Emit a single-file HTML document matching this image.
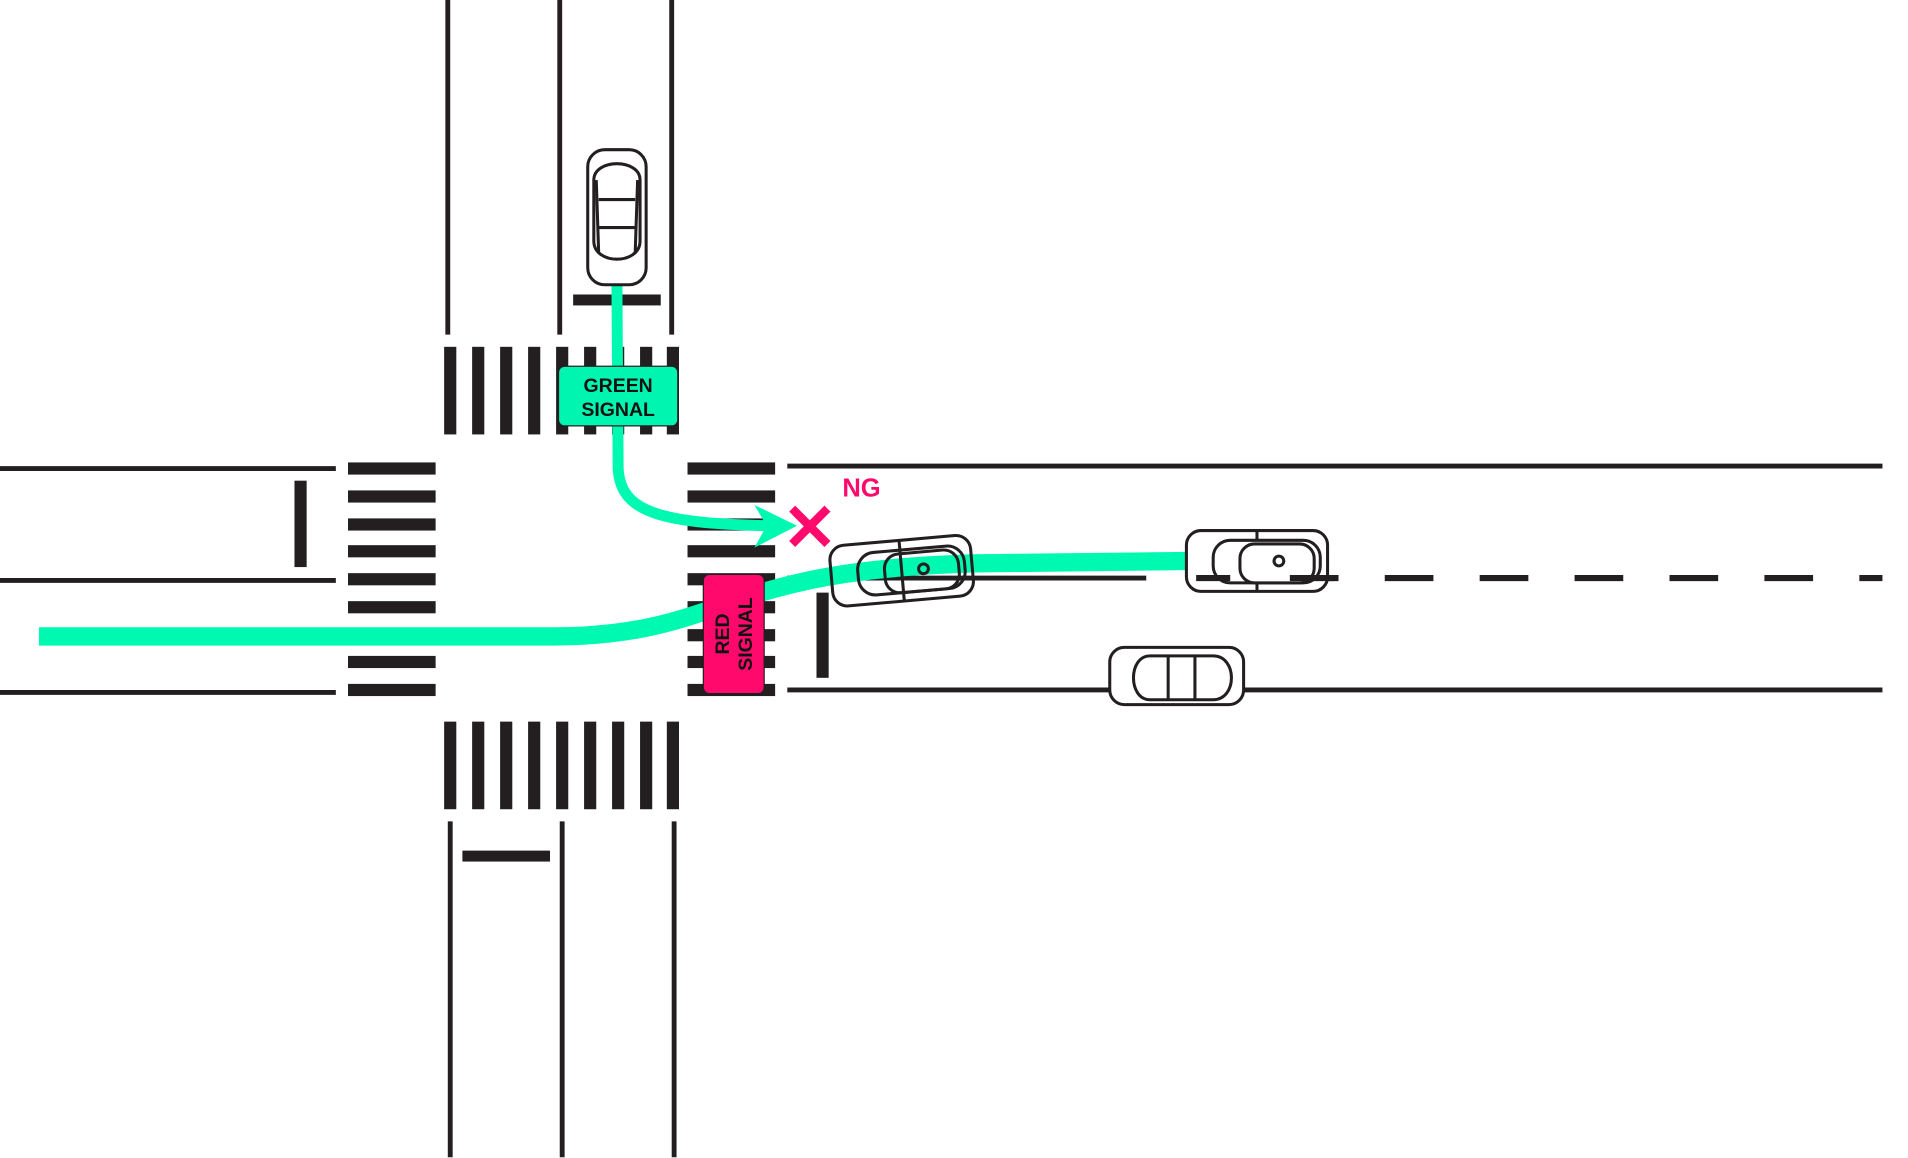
<!DOCTYPE html>
<html><head><meta charset="utf-8"><style>html,body{margin:0;padding:0;background:#fff}svg{display:block}</style></head>
<body>
<svg width="1908" height="1158" viewBox="0 0 1568 951.6" preserveAspectRatio="none" xmlns="http://www.w3.org/2000/svg">
<g stroke="#231f20" stroke-width="4" fill="none">
<line x1="368" y1="0" x2="368" y2="275"/><line x1="460" y1="0" x2="460" y2="275"/><line x1="552" y1="0" x2="552" y2="275"/>
<line x1="370" y1="675" x2="370" y2="951"/><line x1="462" y1="675" x2="462" y2="951"/><line x1="554" y1="675" x2="554" y2="951"/>
<line x1="0" y1="385" x2="276" y2="385"/><line x1="0" y1="477" x2="276" y2="477"/><line x1="0" y1="569" x2="276" y2="569"/>
<line x1="647" y1="383" x2="1547" y2="383"/><line x1="647" y1="567" x2="1547" y2="567"/>
<line x1="647" y1="475" x2="942" y2="475"/>
<line x1="982" y1="475" x2="1547" y2="475" stroke-width="5" stroke-dasharray="40 38"/>
</g>
<g fill="#231f20">
<rect x="471" y="242" width="72" height="9"/>
<rect x="380" y="699" width="72" height="9"/>
<rect x="242" y="395" width="10" height="71"/>
<rect x="671" y="487" width="10" height="70"/>
<g id="vc"><rect x="365" y="285" width="10" height="72"/><rect x="388" y="285" width="10" height="72"/><rect x="411" y="285" width="10" height="72"/><rect x="434" y="285" width="10" height="72"/><rect x="457" y="285" width="10" height="72"/><rect x="480" y="285" width="10" height="72"/><rect x="503" y="285" width="10" height="72"/><rect x="526" y="285" width="10" height="72"/><rect x="548" y="285" width="10" height="72"/></g>
<use href="#vc" y="308"/>
<g id="hc"><rect x="286" y="380" width="72" height="10"/><rect x="286" y="403" width="72" height="10"/><rect x="286" y="426" width="72" height="10"/><rect x="286" y="448" width="72" height="10"/><rect x="286" y="471" width="72" height="10"/><rect x="286" y="494" width="72" height="10"/><rect x="286" y="517" width="72" height="10"/><rect x="286" y="539" width="72" height="10"/><rect x="286" y="562" width="72" height="10"/></g>
<use href="#hc" x="279"/>
</g>
<g fill="none" stroke="#00f9b0" stroke-width="15">
<path d="M32 523 L455 523 C520 523 560 510 600 495 C650 478 700 466 800 463 L975 461"/>
</g>
<g fill="none" stroke="#00f9b0" stroke-width="9">
<path d="M507 235 L508 385 C510 420 540 430 630 432"/>
</g>
<polygon points="655,432 620,415 630,432 620,450" fill="#00f9b0"/>
<g fill="#fff" stroke="#231f20" stroke-width="2.5">
<g transform="translate(507,178)">
<rect x="-24" y="-55" width="48" height="111" rx="14"/>
<path d="M-19 -30 C-19 -48 19 -48 19 -30 L19 20 C19 40 -19 40 -19 20 Z"/>
<path d="M-15 -14 L15 -14 M-15 9 L15 9 M-17 -30 L-15 30 M17 -30 L15 30" fill="none"/>
</g>
<g transform="translate(1033,461)">
<rect x="-58" y="-25" width="116" height="50" rx="12"/>
<line x1="0" y1="-25" x2="0" y2="25"/>
<rect x="-36" y="-17" width="88" height="35" rx="14"/>
<rect x="-14" y="-14" width="61" height="32" rx="12"/>
<circle cx="18" cy="0" r="4"/>
<line x1="-50" y1="14" x2="-22" y2="14" stroke-width="5"/>
<line x1="27" y1="14" x2="64" y2="14" stroke-width="5"/>
</g>
<g transform="translate(741,469) rotate(-5)" fill="none">
<rect x="-58" y="-25" width="116" height="50" rx="12"/>
<line x1="0" y1="-25" x2="0" y2="25"/>
<rect x="-36" y="-17" width="88" height="35" rx="14"/>
<rect x="-14" y="-14" width="61" height="32" rx="12"/>
<circle cx="18" cy="0" r="4"/>
</g>
<g transform="translate(967,555)">
<rect x="-55" y="-23" width="110" height="47" rx="12"/>
<path d="M-22 -16 C-40 -16 -40 20 -22 20 L30 20 C50 20 50 -16 30 -16 Z"/>
<path d="M-7 -16 L-7 20 M15 -16 L15 20" fill="none"/>
</g>
</g>
<rect x="459" y="301" width="98" height="49" rx="5" fill="#00f5b0" stroke="#231f20" stroke-width="1"/>
<text x="508" y="322" font-family="Liberation Sans, sans-serif" font-weight="bold" font-size="16" text-anchor="middle" fill="#111">GREEN</text>
<text x="508" y="342" font-family="Liberation Sans, sans-serif" font-weight="bold" font-size="16" text-anchor="middle" fill="#111">SIGNAL</text>
<rect x="578" y="472" width="50" height="98" rx="5" fill="#ff0a6c" stroke="#231f20" stroke-width="1"/>
<g transform="translate(603,521) rotate(-90)" font-family="Liberation Sans, sans-serif" font-weight="bold" font-size="16" text-anchor="middle" fill="#111">
<text x="0" y="-4">RED</text><text x="0" y="15">SIGNAL</text>
</g>
<g stroke="#ff0a6c" stroke-width="7"><line x1="651" y1="418" x2="680" y2="447"/><line x1="680" y1="418" x2="651" y2="447"/></g>
<text x="708" y="408" font-family="Liberation Sans, sans-serif" font-weight="bold" font-size="21" text-anchor="middle" fill="#ff0a6c">NG</text>
</svg>
</body></html>
